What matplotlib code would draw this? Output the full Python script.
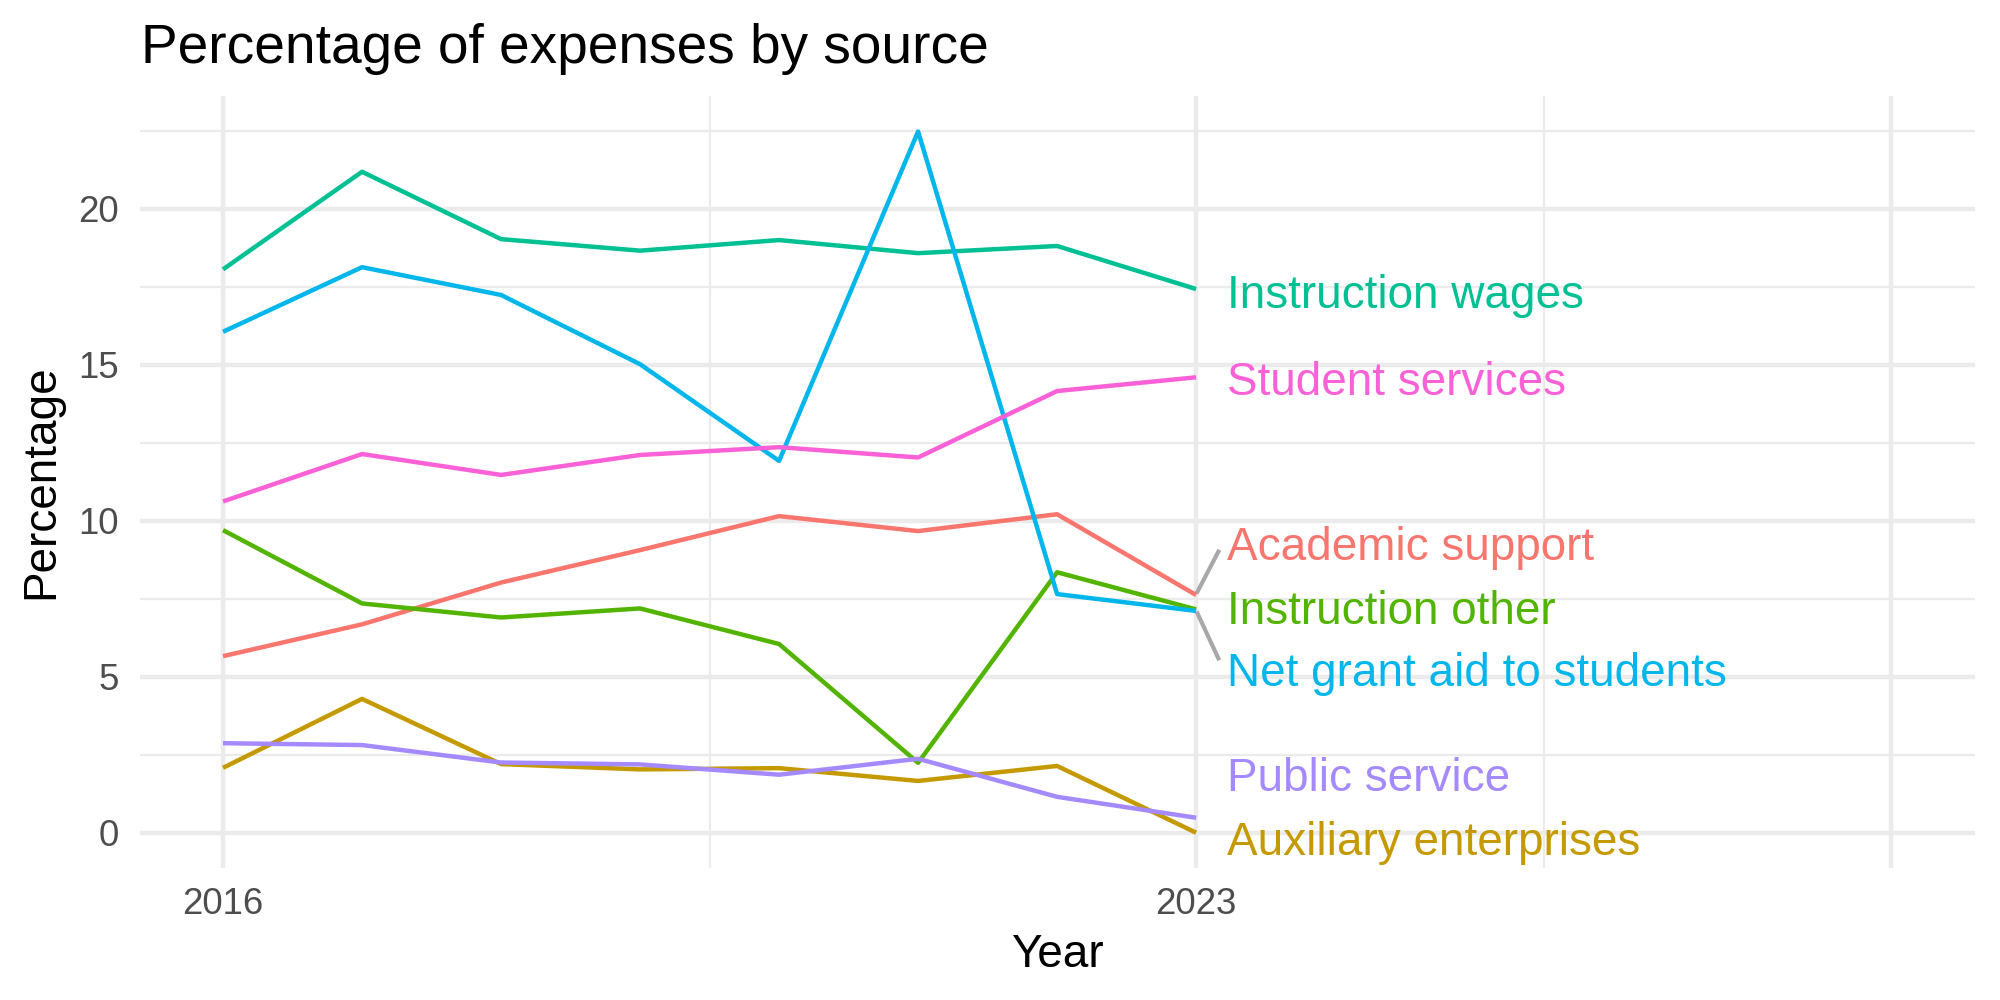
import matplotlib
matplotlib.use("Agg")
from matplotlib import pyplot as plt
from matplotlib.ticker import FixedLocator

plt.rcParams['font.family'] = ['Liberation Sans', 'DejaVu Sans']

years = [2016, 2017, 2018, 2019, 2020, 2021, 2022, 2023]

academic_support = [5.66, 6.68, 8.02, 9.06, 10.15, 9.67, 10.21, 7.62]
auxiliary_enterprises = [2.08, 4.29, 2.20, 2.03, 2.07, 1.66, 2.14, 0.0]
instruction_other = [9.70, 7.35, 6.90, 7.19, 6.05, 2.24, 8.35, 7.16]
instruction_wages = [18.06, 21.19, 19.03, 18.66, 19.00, 18.58, 18.81, 17.43]
net_grant_aid = [16.06, 18.13, 17.24, 15.02, 11.92, 22.48, 7.65, 7.11]
public_service = [2.87, 2.81, 2.25, 2.19, 1.86, 2.37, 1.15, 0.48]
student_services = [10.62, 12.14, 11.47, 12.11, 12.36, 12.03, 14.16, 14.60]

sources = ["Academic support", "Auxiliary enterprises", "Instruction other",
           "Instruction wages", "Net grant aid to students", "Public service",
           "Student services"]
series = [academic_support, auxiliary_enterprises, instruction_other,
          instruction_wages, net_grant_aid, public_service, student_services]
colors = ["#F8766D", "#C49A00", "#53B400", "#00C094", "#00B6EB", "#A58AFF", "#FB61D7"]

# where the repelled labels ended up (label centre, y)
label_y = [9.28, -0.18, 7.25, 17.38, 5.25, 1.87, 14.57]
label_x = 2023.22

fig = plt.figure(figsize=(20 / 3, 10 / 3), dpi=300)
ax = fig.add_axes([0.0698, 0.1322, 0.9175, 0.772])

for name, vals, col, ly in zip(sources, series, colors, label_y):
    ax.plot(years, vals, color=col, lw=1.07, solid_capstyle='butt', zorder=3)
    ax.text(label_x, ly, name, color=col, fontsize=11, ha='left',
            va='center_baseline', zorder=4)

# leader segments for the two labels that got pushed away
ax.plot([2023.01, 2023.16], [7.73, 9.01], color='#A8A8A8', lw=1.0, zorder=2)
ax.plot([2023.01, 2023.16], [7.03, 5.59], color='#A8A8A8', lw=1.0, zorder=2)

ax.set_xlim(2015.4, 2028.6)
ax.set_ylim(-1.125, 23.625)

ax.xaxis.set_major_locator(FixedLocator([2016, 2023, 2028]))
ax.set_xticklabels(['2016', '2023', ''])
ax.xaxis.set_minor_locator(FixedLocator([2019.5, 2025.5]))
ax.yaxis.set_major_locator(FixedLocator([0, 5, 10, 15, 20]))
ax.yaxis.set_minor_locator(FixedLocator([2.5, 7.5, 12.5, 17.5, 22.5]))

ax.grid(which='major', color='#EBEBEB', lw=1.07, zorder=0)
ax.grid(which='minor', color='#EBEBEB', lw=0.53, zorder=0)
ax.set_axisbelow(True)
for s in ax.spines.values():
    s.set_visible(False)
ax.tick_params(which='both', length=0, labelsize=8.8, labelcolor='#4D4D4D')
ax.tick_params(axis='x', pad=4.5)
ax.tick_params(axis='y', pad=5.0)

ax.set_xlabel('Year', fontsize=11)
ax.xaxis.label.set_va('baseline')
ax.xaxis.set_label_coords(0.5, -0.1285)
ax.set_ylabel('Percentage', fontsize=11)
ax.yaxis.label.set_va('center')
ax.yaxis.set_label_coords(-0.0535, 0.5)

fig.text(0.0703, 0.937, 'Percentage of expenses by source', fontsize=13.2,
         ha='left', va='baseline')

fig.savefig('out.png', dpi=300, facecolor='white')
